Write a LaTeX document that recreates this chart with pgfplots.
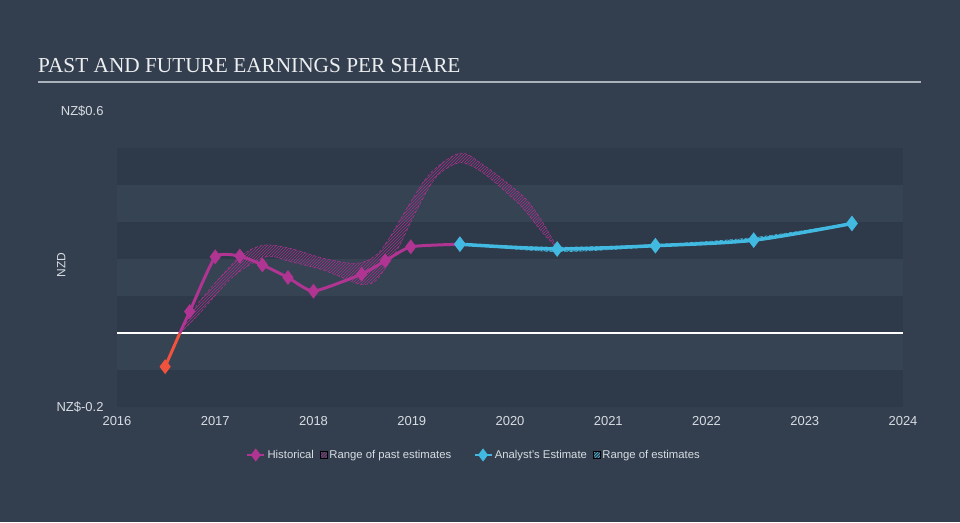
\documentclass[border=0pt]{standalone}
\usepackage{pgfplots}
\pgfplotsset{compat=1.18}
\usepgfplotslibrary{fillbetween}
\usetikzlibrary{patterns}
\usepackage{fontspec}
\setmainfont{Liberation Sans}
\newfontfamily\titlefont{Liberation Serif}
\definecolor{bg}{RGB}{51,63,79}
\definecolor{lightband}{RGB}{53,67,83}
\definecolor{darkband}{RGB}{46,58,73}
\definecolor{histc}{RGB}{176,52,146}
\definecolor{pastc}{RGB}{165,50,140}
\definecolor{futc}{RGB}{66,185,224}
\definecolor{negc}{RGB}{240,82,62}
\definecolor{axisc}{RGB}{170,178,188}
\definecolor{labelc}{RGB}{215,220,226}
\definecolor{titlec}{RGB}{236,238,240}
\tikzset{fill between/on layer=main}
\begin{document}
\begin{tikzpicture}[x=1pt,y=1pt]
\fill[bg] (0,0) rectangle (960,522);
\node[anchor=base west, text=titlec, font=\titlefont\fontsize{21.3}{25}\selectfont, inner sep=0pt] at (38,449) {PAST AND FUTURE EARNINGS PER SHARE};
\draw[axisc, line width=1.5pt] (38,440) -- (921,440);
\begin{axis}[
  at={(117pt,115pt)}, anchor=south west, scale only axis,
  width=786pt, height=296pt,
  xmin=2016, xmax=2024, ymin=-0.2, ymax=0.6,
  axis lines*=left, axis line style={-},
  x axis line style={draw=axisc, line width=1pt},
  y axis line style={draw=none},
  xtick={2016,2017,2018,2019,2020,2021,2022,2023,2024},
  xticklabels={2016,2017,2018,2019,2020,2021,2022,2023,2024},
  ytick={-0.2,0.6}, yticklabels={NZ\$-0.2,NZ\$0.6},
  tick align=outside, major tick length=6pt,
  x tick style={draw=axisc, line width=1pt},
  y tick style={draw=none},
  ticklabel style={text=labelc, font=\fontsize{13}{15}\selectfont},
  yticklabel style={xshift=-4pt},
  ylabel={NZD},
  ylabel style={at={(axis description cs:-0.071,0.48)}, anchor=center, text=labelc, font=\fontsize{12}{14}\selectfont},
  legend columns=4,
  legend style={at={(0.454,-0.162)}, anchor=center, draw=none, fill=none,
    text=labelc, font=\fontsize{11.3}{13}\selectfont,
    /tikz/column 2/.style={column sep=4pt},
    /tikz/column 4/.style={column sep=20pt},
    /tikz/column 6/.style={column sep=4pt}},
]
\fill[darkband] (axis cs:2016,0.4) rectangle (axis cs:2024,0.5);
\fill[lightband] (axis cs:2016,0.3) rectangle (axis cs:2024,0.4);
\fill[darkband] (axis cs:2016,0.2) rectangle (axis cs:2024,0.3);
\fill[lightband] (axis cs:2016,0.1) rectangle (axis cs:2024,0.2);
\fill[darkband] (axis cs:2016,0.0) rectangle (axis cs:2024,0.1);
\fill[lightband] (axis cs:2016,-0.1) rectangle (axis cs:2024,0.0);
\fill[darkband] (axis cs:2016,-0.2) rectangle (axis cs:2024,-0.1);
\draw[white, line width=1.3pt] (axis cs:2016,0) -- (axis cs:2024,0);

% range of past estimates
\addplot[forget plot, name path=pu, draw=pastc, line width=0.6pt, densely dashed, smooth, tension=0.5] table {
2016.64 0.000
2016.84 0.085
2017.18 0.188
2017.35 0.224
2017.52 0.238
2017.76 0.229
2018.10 0.202
2018.44 0.188
2018.64 0.211
2018.78 0.260
2018.98 0.350
2019.19 0.432
2019.49 0.486
2019.73 0.454
2020.14 0.368
2020.34 0.296
2020.48 0.229
};
\addplot[forget plot, name path=pl, draw=pastc, line width=0.6pt, densely dashed, smooth, tension=0.5] table {
2016.64 0.000
2016.84 0.053
2017.18 0.152
2017.52 0.206
2017.76 0.193
2018.10 0.170
2018.44 0.134
2018.54 0.132
2018.64 0.143
2018.85 0.224
2019.05 0.332
2019.25 0.422
2019.49 0.460
2019.73 0.432
2020.10 0.346
2020.31 0.278
2020.48 0.229
};
\addplot[forget plot, pattern=north east lines, pattern color=pastc, draw=none] fill between[of=pu and pl];

% range of estimates (future)
\addplot[forget plot, name path=fu, draw=futc, line width=0.6pt, densely dashed, smooth] table {
2019.49 0.240
2020.48 0.232
2021.48 0.239
2022.48 0.258
2023.48 0.297
};
\addplot[forget plot, name path=fl, draw=futc, line width=0.6pt, densely dashed, smooth] table {
2019.49 0.240
2020.48 0.220
2021.48 0.233
2022.48 0.248
2023.48 0.295
};
\addplot[forget plot, pattern=north east lines, pattern color=futc, draw=none] fill between[of=fu and fl];

% negative segment
\addplot[forget plot, negc, line width=3pt, mark=diamond*, mark size=5pt, mark indices={1}] table {
2016.49 -0.091
2016.64 0.000
};

% historical
\addplot[forget plot, histc, line width=3pt, smooth, tension=0.3, mark=diamond*, mark size=5pt, mark indices={2,3,4,5,6,7,8,9,10,11}] table {
2016.64 0.000
2016.74 0.058
2017.00 0.206
2017.25 0.208
2017.48 0.184
2017.74 0.150
2018.00 0.113
2018.49 0.159
2018.73 0.195
2018.99 0.233
2019.49 0.240
};

% analyst estimate
\addplot[forget plot, futc, line width=3.5pt, smooth, mark=diamond*, mark size=5pt] table {
2019.49 0.240
2020.48 0.227
2021.48 0.236
2022.48 0.251
2023.48 0.296
};

\addlegendimage{histc, line width=2.5pt, mark=diamond*, mark size=4.5pt}
\addlegendentry{Historical}
\addlegendimage{legend image code/.code={\fill[pattern=north east lines, pattern color=pastc] (0pt,-3.5pt) rectangle (7pt,3.5pt);}}
\addlegendentry{Range of past estimates}
\addlegendimage{futc, line width=2.5pt, mark=diamond*, mark size=4.5pt}
\addlegendentry{Analyst's Estimate}
\addlegendimage{legend image code/.code={\fill[pattern=north east lines, pattern color=futc] (0pt,-3.5pt) rectangle (7pt,3.5pt);}}
\addlegendentry{Range of estimates}
\end{axis}
\pgfresetboundingbox
\useasboundingbox (0,0) rectangle (960,522);
\end{tikzpicture}
\end{document}
